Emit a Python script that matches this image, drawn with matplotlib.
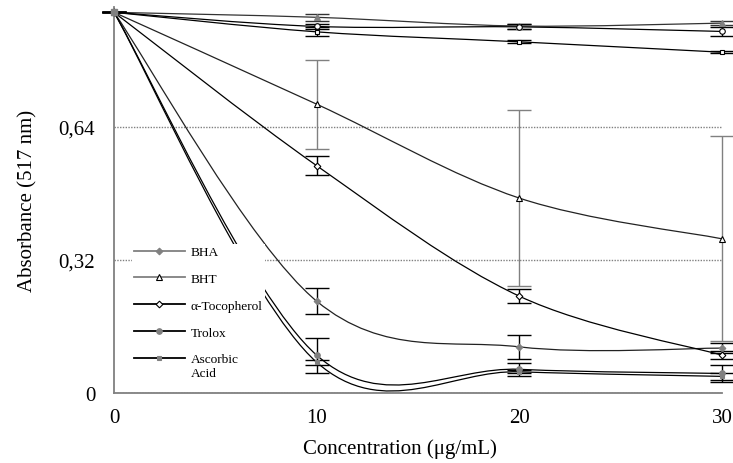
import numpy as np
import matplotlib
matplotlib.use("Agg")
import matplotlib.pyplot as plt
from matplotlib.path import Path
from matplotlib.patches import PathPatch
from matplotlib.lines import Line2D

plt.rcParams['font.family'] = ['Liberation Serif', 'DejaVu Serif']

conc = [0, 10, 20, 30]
bha = [0.916, 0.221, 0.111, 0.108]
bha_err = [0, 0.031, 0.028, 0.012]
bht = [0.916, 0.695, 0.469, 0.371]
bht_err = [0, 0.107, 0.211, 0.247]
toco = [0.916, 0.547, 0.233, 0.091]
toco_err = [0, 0.023, 0.017, 0.010]
trolox = [0.916, 0.091, 0.057, 0.047]
trolox_err = [0, 0.042, 0.015, 0.020]
ascorbic = [0.916, 0.074, 0.051, 0.040]
ascorbic_err = [0, 0.006, 0.004, 0.008]
# upper series (not shown in legend)
top_tri = [0.916, 0.904, 0.883, 0.890]
top_tri_err = [0, 0.008, 0.006, 0.005]
top_circ = [0.916, 0.882, 0.881, 0.870]
top_circ_err = [0, 0.006, 0.006, 0.010]
top_sq = [0.916, 0.869, 0.845, 0.820]
top_sq_err = [0, 0.011, 0.004, 0.003]

yticks = [0, 0.32, 0.64]
ytick_labels = ['0', '0,32', '0,64']
xticks = [0, 10, 20, 30]

GRAY = '#808080'


def smooth_path(x, y):
    pts = np.column_stack([x, y]).astype(float)
    n = len(pts)
    verts = [pts[0]]
    codes = [Path.MOVETO]
    for i in range(n - 1):
        p0 = pts[i - 1] if i > 0 else pts[i]
        p1 = pts[i]
        p2 = pts[i + 1]
        p3 = pts[i + 2] if i + 2 < n else pts[i + 1]
        c1 = p1 + (p2 - p0) / 6.0
        c2 = p2 - (p3 - p1) / 6.0
        verts += [c1, c2, p2]
        codes += [Path.CURVE4] * 3
    return Path(verts, codes)


fig = plt.figure(figsize=(7.33, 4.64), dpi=100)
ax = fig.add_axes([114 / 733, 70 / 464, 608 / 733, 386.5 / 464])

series = [
    (top_tri, top_tri_err, '^', GRAY, GRAY, '#333333', '#333333', '_nolegend_'),
    (top_circ, top_circ_err, 'o', 'white', 'black', 'black', 'black', '_nolegend_'),
    (top_sq, top_sq_err, 's', 'white', 'black', 'black', 'black', '_nolegend_'),
    (bha, bha_err, 'D', GRAY, GRAY, '#222222', 'black', 'BHA'),
    (bht, bht_err, '^', 'white', 'black', '#222222', GRAY, 'BHT'),
    (toco, toco_err, 'D', 'white', 'black', 'black', 'black', 'α-Tocopherol'),
    (trolox, trolox_err, 'o', GRAY, GRAY, 'black', 'black', 'Trolox'),
    (ascorbic, ascorbic_err, 's', GRAY, GRAY, 'black', 'black', 'Ascorbic'),
]

handles = []
for vals, err, mk, mfc, mec, lc, ec, lab in series:
    ax.add_patch(PathPatch(smooth_path(conc, vals), fill=False, edgecolor=lc,
                           lw=0.9, zorder=2, clip_on=False))
    ax.errorbar(conc, vals, yerr=err, fmt='none', ecolor=ec, elinewidth=1.0,
                capsize=8.5, capthick=1.0, zorder=3, clip_on=False)
    ms = 4.0 if mk in ('^', 'o') else 3.4
    ax.plot(conc, vals, linestyle='none', marker=mk, markersize=ms,
            markerfacecolor=mfc, markeredgecolor=mec, markeredgewidth=0.8,
            zorder=4, clip_on=False)
    if lab != '_nolegend_':
        handles.append(Line2D([], [], color=GRAY if lab in ('BHA', 'BHT') else 'black',
                              lw=1.3, marker=mk, markersize=ms,
                              markerfacecolor=mfc, markeredgecolor=mec,
                              markeredgewidth=0.8, label=lab))

# larger marker at the common starting point
ax.plot([conc[0]], [ascorbic[0]], linestyle='none', marker='s', markersize=5,
        markerfacecolor=GRAY, markeredgecolor=GRAY, zorder=5, clip_on=False)

ax.set_xlim(0, 30)
ax.set_ylim(0, 0.93)
ax.set_xticks(xticks)
ax.set_yticks(yticks)
ax.set_yticklabels(ytick_labels)
ax.tick_params(axis='both', length=0, labelsize=15)
ax.tick_params(axis='y', pad=13.5)
ax.tick_params(axis='x', pad=11)

ax.grid(axis='y', color=GRAY, linestyle=(0, (1, 1)), linewidth=1.0, zorder=1)
ax.set_axisbelow(True)

for s in ('top', 'right'):
    ax.spines[s].set_visible(False)
for s in ('left', 'bottom'):
    ax.spines[s].set_color(GRAY)
    ax.spines[s].set_linewidth(1.3)

ax.set_xlabel('Concentration (μg/mL)', fontsize=15)
ax.set_ylabel('Absorbance (517 nm)', fontsize=15)
ax.xaxis.set_label_coords((400 - 114) / 608, -0.117)
ax.yaxis.set_label_coords(-0.126, 0.5)

leg = ax.legend(handles=handles, loc='upper left',
                bbox_to_anchor=((132 - 114) / 608, (394 - 245) / 386.5),
                fontsize=9.6, handlelength=3.8, handletextpad=0.45,
                labelspacing=1.08, borderpad=0.15, borderaxespad=0,
                frameon=True, fancybox=False, edgecolor='none',
                facecolor='white', framealpha=1.0)
leg.set_zorder(10)

# second line of the last legend label, placed under "Ascorbic"
last_txt = leg.get_texts()[-1]
ax.annotate('Acid', xy=(0, 0), xycoords=last_txt, xytext=(0, -1.5),
            textcoords='offset points', ha='left', va='top', fontsize=9.6,
            zorder=11, annotation_clip=False,
            bbox=dict(facecolor='white', edgecolor='none', pad=1.0))

fig.savefig('out.png', dpi=100)
